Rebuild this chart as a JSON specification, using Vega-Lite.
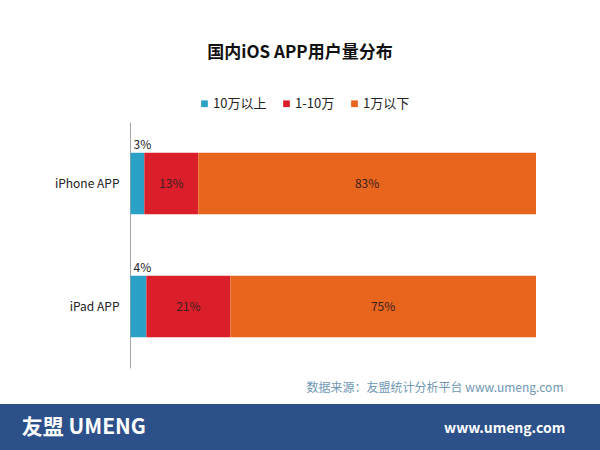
{
  "$schema": "https://vega.github.io/schema/vega-lite/v6.json",
  "description": "Share of iOS apps by user count, iPhone vs iPad (umeng).",
  "background": "white",
  "padding": {"top": 44, "left": 0, "right": 0, "bottom": 0},
  "config": {
    "font": "Noto Sans CJK SC",
    "view": {"stroke": null}
  },
  "title": {
    "text": "国内iOS APP用户量分布",
    "anchor": "middle",
    "frame": "bounds",
    "fontSize": 17,
    "fontWeight": "bold",
    "color": "#111111",
    "offset": 35
  },
  "spacing": 11,
  "vconcat": [
    {
      "width": 536,
      "height": 246,
      "data": {
        "values": [
          {"device": "iPhone APP", "group": "10万以上", "share": 0.034},
          {"device": "iPhone APP", "group": "1-10万", "share": 0.133},
          {"device": "iPhone APP", "group": "1万以下", "share": 0.833},
          {"device": "iPad APP", "group": "10万以上", "share": 0.039},
          {"device": "iPad APP", "group": "1-10万", "share": 0.207},
          {"device": "iPad APP", "group": "1万以下", "share": 0.754}
        ]
      },
      "transform": [
        {"calculate": "indexof(['10万以上', '1-10万', '1万以下'], datum.group)", "as": "rank"},
        {"stack": "share", "groupby": ["device"], "sort": [{"field": "rank", "order": "ascending"}], "as": ["x0", "x1"]},
        {"calculate": "(datum.x0 + datum.x1) / 2", "as": "xmid"}
      ],
      "layer": [
        {
          "mark": {"type": "bar"},
          "encoding": {
            "y": {
              "field": "device",
              "type": "nominal",
              "sort": ["iPhone APP", "iPad APP"],
              "scale": {"paddingInner": 0.5, "paddingOuter": 0.25},
              "axis": {
                "title": null,
                "offset": -130,
                "ticks": false,
                "grid": false,
                "labelFontSize": 12,
                "labelColor": "#222222",
                "labelPadding": 11,
                "domainColor": "#a6a6a6"
              }
            },
            "x": {
              "field": "x0",
              "type": "quantitative",
              "scale": {"domain": [-0.322, 1], "nice": false, "zero": false},
              "axis": {
                "title": "数据来源：友盟统计分析平台 www.umeng.com",
                "labels": false,
                "ticks": false,
                "domain": false,
                "grid": false,
                "titleX": 563,
                "titleY": 19,
                "titleAlign": "right",
                "titleBaseline": "middle",
                "titleFontSize": 12,
                "titleFontWeight": "normal",
                "titleColor": "#6f97b3"
              }
            },
            "x2": {"field": "x1"},
            "color": {
              "field": "group",
              "type": "nominal",
              "scale": {
                "domain": ["10万以上", "1-10万", "1万以下"],
                "range": ["#2ba1c6", "#db1f2a", "#e8651d"]
              },
              "legend": {
                "title": null,
                "orient": "none",
                "direction": "horizontal",
                "legendX": 198,
                "legendY": -25,
                "padding": 0,
                "symbolType": "square",
                "symbolSize": 45,
                "symbolStrokeWidth": 0,
                "labelFontSize": 13,
                "labelColor": "#222222",
                "labelOffset": 2,
                "columnPadding": 13
              }
            }
          }
        },
        {
          "transform": [{"filter": "datum.rank > 0"}],
          "mark": {"type": "text", "fontSize": 12, "color": "#3a2020"},
          "encoding": {
            "y": {"field": "device", "type": "nominal", "sort": ["iPhone APP", "iPad APP"]},
            "x": {"field": "xmid", "type": "quantitative"},
            "text": {"field": "share", "type": "quantitative", "format": ".0%"}
          }
        },
        {
          "transform": [{"filter": "datum.rank == 0"}],
          "mark": {"type": "text", "fontSize": 12, "color": "#222222", "align": "left", "baseline": "bottom", "dx": 3, "dy": -1},
          "encoding": {
            "y": {"field": "device", "type": "nominal", "sort": ["iPhone APP", "iPad APP"], "bandPosition": 0},
            "x": {"field": "x0", "type": "quantitative"},
            "text": {"field": "share", "type": "quantitative", "format": ".0%"}
          }
        }
      ]
    },
    {
      "width": 600,
      "height": 47,
      "view": {"fill": "#2c5089", "stroke": null},
      "data": {
        "values": [
          {"side": "left", "label": "友盟 UMENG"},
          {"side": "right", "label": "www.umeng.com"}
        ]
      },
      "layer": [
        {
          "transform": [{"filter": "datum.side == 'left'"}],
          "mark": {"type": "text", "align": "left", "fontSize": 21, "fontWeight": "bold", "color": "white", "dx": -3},
          "encoding": {
            "x": {"field": "side", "type": "nominal", "scale": {"type": "point", "domain": ["left", "right"], "padding": 0.045}, "axis": null},
            "text": {"field": "label"}
          }
        },
        {
          "transform": [{"filter": "datum.side == 'right'"}],
          "mark": {"type": "text", "align": "right", "fontSize": 14, "fontWeight": "bold", "color": "white", "dx": -10, "dy": 1},
          "encoding": {
            "x": {"field": "side", "type": "nominal", "scale": {"type": "point", "domain": ["left", "right"], "padding": 0.045}, "axis": null},
            "text": {"field": "label"}
          }
        }
      ]
    }
  ]
}
